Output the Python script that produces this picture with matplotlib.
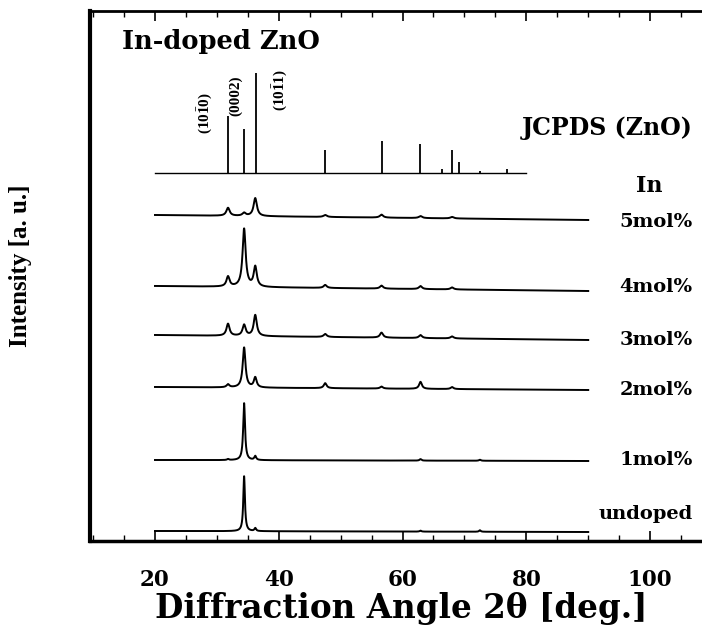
import matplotlib
matplotlib.use("Agg")

import matplotlib.pyplot as plt
import numpy as np
from matplotlib.ticker import MultipleLocator

# JCPDS reference pattern for ZnO (2theta, relative intensity)
jcpds_pos = [31.77, 34.42, 36.25, 47.54, 56.60, 62.86, 66.38, 67.96, 69.10, 72.56, 76.95]
jcpds_int = [57, 44, 100, 23, 32, 29, 4, 23, 11, 2, 4]
jcpds_base = 368

# measured patterns, stacked with an offset
sample_labels = ["5mol%", "4mol%", "3mol%", "2mol%", "1mol%", "undoped"]
peak_pos = [31.8, 34.4, 36.2, 47.5, 56.6, 62.9, 68.0, 72.5]
peak_heights = [
    [8, 3, 18, 2, 3, 2, 1.5, 0],      # 5mol%
    [10, 58, 20, 3, 3, 3, 2, 0],      # 4mol%
    [12, 11, 21, 3, 5, 3, 2, 0],      # 3mol%
    [3, 40, 10, 5, 2, 7, 2, 0],       # 2mol%
    [1, 57, 4, 0, 0, 1.5, 0, 1],      # 1mol%
    [0, 55, 3, 0, 0, 1, 0, 1.5],      # undoped
]
peak_hwhm = [0.32, 0.30, 0.30, 0.27, 0.18, 0.16]
base_start = [326, 255, 206, 154, 81, 10]
base_end = [321, 250, 201, 151, 80, 9]
label_y = [314, 249, 196, 146, 76, 22]

hkl_labels = ["(10$\\bar{1}$0)", "(0002)", "(10$\\bar{1}$1)"]
hkl_x = [28.2, 33.1, 40.2]
hkl_y = [428, 445, 451]

scan_start, scan_end = 20, 90
jcpds_start, jcpds_end = 20, 80

plt.rcParams["mathtext.fontset"] = "custom"
plt.rcParams["mathtext.rm"] = "Liberation Serif:bold"
plt.rcParams["mathtext.it"] = "Liberation Serif:bold"
plt.rcParams["mathtext.bf"] = "Liberation Serif:bold"

fig = plt.figure(figsize=(7.02, 6.34), dpi=100)
ax = fig.add_axes([90 / 702, 93 / 634, 622 / 702, 530 / 634])

# stick pattern
ax.plot([jcpds_start, jcpds_end], [jcpds_base, jcpds_base], color="black", lw=1.0)
ax.vlines(jcpds_pos, jcpds_base, [jcpds_base + h for h in jcpds_int],
          color="black", lw=1.3)

# XRD traces: lorentzian peaks on a slightly sloping background
tt = np.arange(scan_start, scan_end + 0.01, 0.02)
for i in range(len(sample_labels)):
    y = np.interp(tt, [scan_start, scan_end], [base_start[i], base_end[i]])
    w = peak_hwhm[i]
    for pos, h in zip(peak_pos, peak_heights[i]):
        y = y + h * w ** 2 / ((tt - pos) ** 2 + w ** 2)
    ax.plot(tt, y, color="black", lw=1.4)
    ax.text(106.9, label_y[i], sample_labels[i], ha="right", va="baseline",
            family="DejaVu Serif", fontweight="bold", fontsize=14)

for txt, x, y in zip(hkl_labels, hkl_x, hkl_y):
    ax.text(x, y, txt, rotation=90, ha="center", va="center",
            family="Liberation Serif", fontweight="bold", fontsize=11)

ax.text(14.7, 492, "In-doped ZnO", ha="left", va="baseline",
        family="DejaVu Serif", fontweight="bold", fontsize=18.5)
ax.text(106.9, 406, "JCPDS (ZnO)", ha="right", va="baseline",
        family="DejaVu Serif", fontweight="bold", fontsize=17)
ax.text(99.8, 349, "In", ha="center", va="baseline",
        family="DejaVu Serif", fontweight="bold", fontsize=16)

ax.set_xlim(9.5, 110)
ax.set_ylim(0, 530)

ax.xaxis.set_major_locator(MultipleLocator(20))
ax.xaxis.set_minor_locator(MultipleLocator(5))
ax.tick_params(axis="x", which="both", direction="in", top=True, pad=20,
               labelsize=15.5)
ax.tick_params(axis="x", which="major", length=7, width=1.2)
ax.tick_params(axis="x", which="minor", length=4, width=1.0)
ax.set_yticks([])
for lab in ax.get_xticklabels():
    lab.set_family("DejaVu Serif")
    lab.set_fontweight("bold")

ax.spines["right"].set_visible(False)
ax.spines["left"].set_linewidth(3)
ax.spines["bottom"].set_linewidth(2.5)
ax.spines["top"].set_linewidth(2)

ax.set_xlabel("Diffraction Angle 2θ [deg.]", family="DejaVu Serif",
              fontweight="bold", fontsize=23.5, labelpad=1)
ax.set_ylabel("Intensity [a. u.]", family="Liberation Serif",
              fontweight="bold", fontsize=18)
ax.yaxis.set_label_coords(-0.093, 0.519)

fig.savefig("out.png", dpi=100)
